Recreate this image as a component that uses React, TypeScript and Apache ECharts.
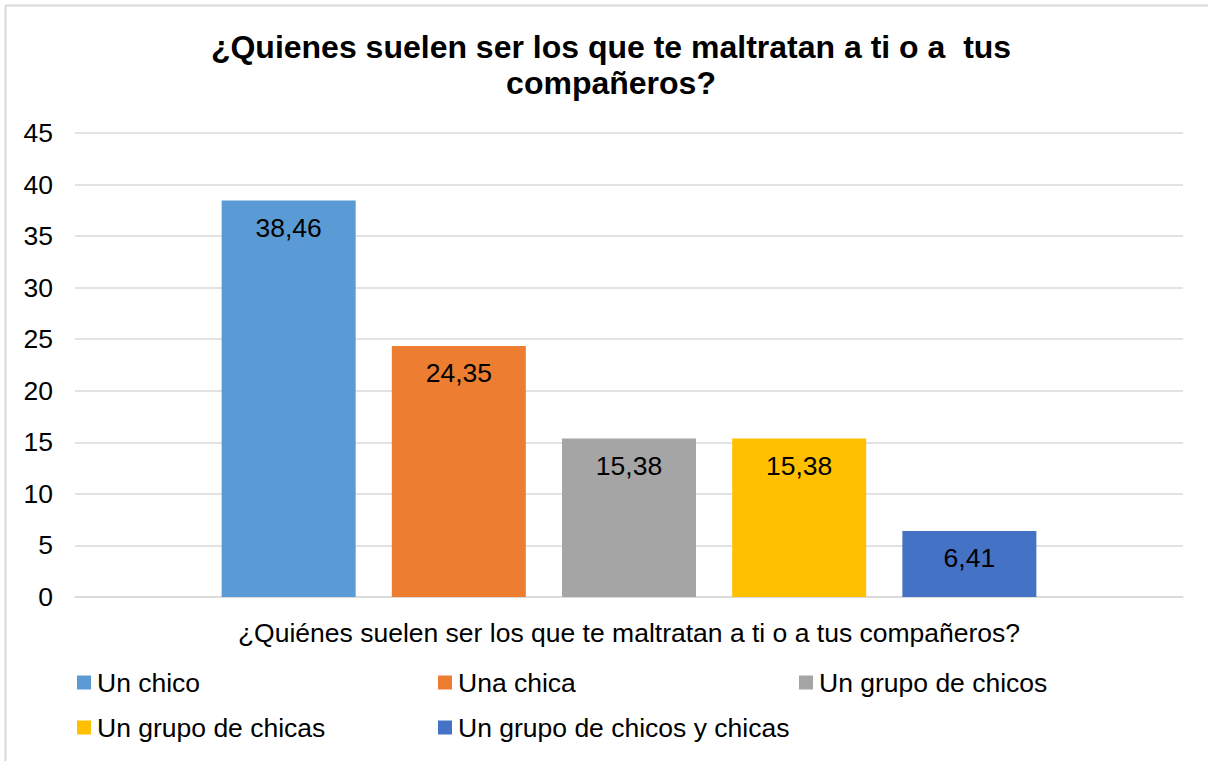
import React, { useEffect, useRef } from "react";
import * as echarts from "echarts";

const titleText = "¿Quienes suelen ser los que te maltratan a ti o a  tus\ncompañeros?";
const categories = ["¿Quiénes suelen ser los que te maltratan a ti o a tus compañeros?"];
const seriesNames = ["Un chico", "Una chica", "Un grupo de chicos", "Un grupo de chicas", "Un grupo de chicos y chicas"];
const seriesValues = [38.46, 24.35, 15.38, 15.38, 6.41];
const seriesColors = ["#5B9BD5", "#ED7D31", "#A5A5A5", "#FFC000", "#4472C4"];
const legendPos = [
  { left: 77, top: 669 },
  { left: 438, top: 669 },
  { left: 799, top: 669 },
  { left: 77, top: 714 },
  { left: 438, top: 714 },
];

const FONT = "'Liberation Sans', Arial, sans-serif";
const FS = 26.5;

export default function App() {
  const ref = useRef<HTMLDivElement>(null);
  useEffect(() => {
    document.body.style.margin = "0";
    if (!ref.current) return;
    const chart = echarts.init(ref.current, null, { renderer: "svg" });
    chart.setOption({
      animation: false,
      backgroundColor: "#ffffff",
      textStyle: { fontFamily: FONT },
      graphic: [
        {
          type: "line",
          shape: { x1: 5.5, y1: 5.5, x2: 1208, y2: 5.5 },
          style: { stroke: "#d9d9d9", lineWidth: 2 },
          silent: true,
        },
        {
          type: "line",
          shape: { x1: 5.5, y1: 5.5, x2: 5.5, y2: 761 },
          style: { stroke: "#d9d9d9", lineWidth: 2 },
          silent: true,
        },
      ],
      title: {
        text: titleText,
        left: 606,
        textAlign: "center",
        top: 24,
        textStyle: { fontFamily: FONT, fontSize: 32, fontWeight: "bold", color: "#000000", lineHeight: 36 },
      },
      legend: seriesNames.map((n, i) => ({
        data: [n],
        left: legendPos[i].left,
        top: legendPos[i].top,
        padding: 0,
        itemWidth: 14,
        itemHeight: 14,
        itemGap: 0,
        icon: "rect",
        textStyle: { fontFamily: FONT, fontSize: FS, lineHeight: 26, color: "#000000", padding: [0, 0, 0, 1] },
      })),
      grid: { left: 75, right: 25, top: 133, bottom: 164, containLabel: false },
      xAxis: {
        type: "category",
        data: categories,
        axisLine: { lineStyle: { color: "#d9d9d9", width: 1.5 } },
        axisTick: { show: false },
        axisLabel: { fontFamily: FONT, fontSize: FS, color: "#000000", margin: 22 },
      },
      yAxis: {
        type: "value",
        min: 0,
        max: 45,
        interval: 5,
        axisLine: { show: false },
        axisTick: { show: false },
        splitLine: { lineStyle: { color: "#d9d9d9", width: 1.5 } },
        axisLabel: { fontFamily: FONT, fontSize: FS, color: "#000000", margin: 22 },
      },
      series: seriesNames.map((n, i) => ({
        name: n,
        type: "bar",
        data: [seriesValues[i]],
        barWidth: 134,
        barGap: "27%",
        itemStyle: { color: seriesColors[i] },
        label: {
          show: true,
          position: "insideTop",
          distance: 14,
          fontFamily: FONT,
          fontSize: FS,
          color: "#000000",
          formatter: (p: any) => Number(p.value).toFixed(2).replace(".", ","),
        },
      })),
    });
    return () => chart.dispose();
  }, []);
  return <div ref={ref} style={{ width: 1208, height: 761 }} />;
}
